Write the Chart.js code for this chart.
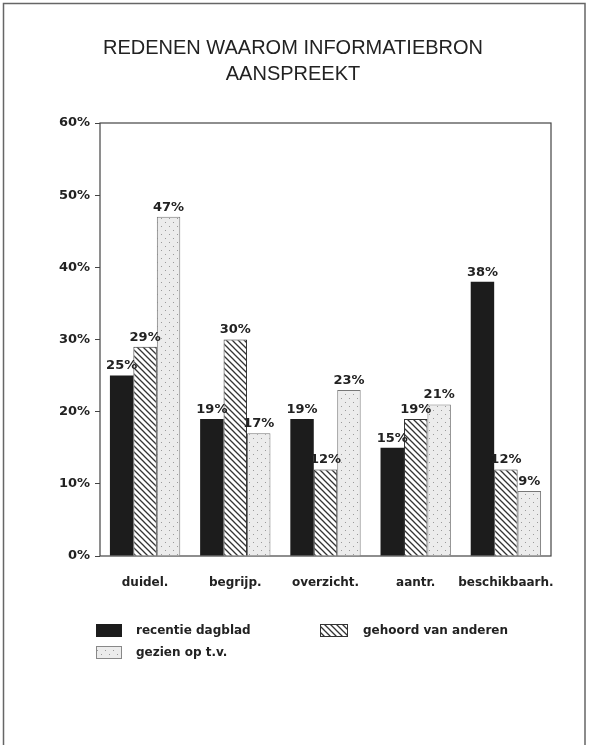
<!DOCTYPE html>
<html>
<head>
<meta charset="utf-8">
<script src="https://cdn.jsdelivr.net/npm/chart.js@4/dist/chart.umd.min.js"></script>
<style>
  html, body { margin: 0; padding: 0; background: #fff; }
  #wrap { width: 589px; height: 745px; position: relative; }
</style>
</head>
<body>
<div id="wrap"><canvas id="myChart" width="589" height="745"></canvas></div>
<script>
const titleLines = ['REDENEN WAAROM INFORMATIEBRON', 'AANSPREEKT'];
const categories = ['duidel.', 'begrijp.', 'overzicht.', 'aantr.', 'beschikbaarh.'];
const seriesNames = ['recentie dagblad', 'gehoord van anderen', 'gezien op t.v.'];
const dagblad = [25, 19, 19, 15, 38];
const anderen = [29, 30, 12, 19, 12];
const televisie = [47, 17, 23, 21, 9];
const yTicks = [0, 10, 20, 30, 40, 50, 60];

const ink = '#222';
const labelFont = 'bold 13px "DejaVu Sans", sans-serif';

// diagonal hatch, lines running top-left to bottom-right
function hatchPattern() {
    const c = document.createElement('canvas');
    c.width = 6; c.height = 6;
    const g = c.getContext('2d');
    g.fillStyle = '#fff';
    g.fillRect(0, 0, 6, 6);
    g.strokeStyle = '#333';
    g.lineWidth = 1.3;
    g.beginPath();
    g.moveTo(-1, -1); g.lineTo(7, 7);
    g.moveTo(-4, 2); g.lineTo(4, 10);
    g.moveTo(2, -4); g.lineTo(10, 4);
    g.stroke();
    return g.createPattern(c, 'repeat');
}

// light grey fill with sparse dots
function dotPattern() {
    const c = document.createElement('canvas');
    c.width = 8; c.height = 8;
    const g = c.getContext('2d');
    g.fillStyle = '#ececec';
    g.fillRect(0, 0, 8, 8);
    g.fillStyle = '#9a9a9a';
    g.fillRect(1, 2, 1, 1);
    g.fillRect(5, 6, 1, 1);
    return g.createPattern(c, 'repeat');
}

const hatch = hatchPattern();
const dots = dotPattern();

const pagePlugin = {
    id: 'page',
    beforeDraw(chart) {
        const ctx = chart.ctx;
        ctx.save();
        ctx.fillStyle = '#fff';
        ctx.fillRect(0, 0, chart.width, chart.height);
        // sheet frame
        ctx.strokeStyle = '#666';
        ctx.lineWidth = 1.5;
        ctx.beginPath();
        ctx.moveTo(3.5, 745); ctx.lineTo(3.5, 3.5); ctx.lineTo(585, 3.5); ctx.lineTo(585, 745);
        ctx.stroke();
        // title
        ctx.fillStyle = ink;
        ctx.font = '20px "Liberation Sans", Arial, sans-serif';
        ctx.textAlign = 'center';
        ctx.textBaseline = 'alphabetic';
        ctx.fillText(titleLines[0], 293, 54);
        ctx.fillText(titleLines[1], 293, 80);
        ctx.restore();
    },
    beforeDatasetsDraw(chart) {
        const a = chart.chartArea;
        const ctx = chart.ctx;
        ctx.save();
        ctx.strokeStyle = '#444';
        ctx.lineWidth = 1.2;
        ctx.strokeRect(a.left, a.top, a.right - a.left, a.bottom - a.top);
        ctx.restore();
    },
    afterDatasetsDraw(chart) {
        const ctx = chart.ctx;
        ctx.save();
        ctx.fillStyle = ink;
        ctx.font = labelFont;
        ctx.textAlign = 'center';
        ctx.textBaseline = 'bottom';
        chart.data.datasets.forEach((ds, i) => {
            chart.getDatasetMeta(i).data.forEach((bar, j) => {
                ctx.fillText(ds.data[j] + '%', bar.x, bar.y - 3);
            });
        });

        // legend
        const swatches = [
            { fill: '#1c1c1c', stroke: '#1c1c1c', x: 96, y: 624, w: 26 },
            { fill: hatch, stroke: '#333', x: 320, y: 624, w: 28 },
            { fill: dots, stroke: '#888', x: 96, y: 646, w: 26 }
        ];
        const textX = [136, 363, 136];
        ctx.font = 'bold 12px "DejaVu Sans", sans-serif';
        ctx.textAlign = 'left';
        ctx.textBaseline = 'middle';
        swatches.forEach((s, i) => {
            ctx.fillStyle = s.fill;
            ctx.fillRect(s.x, s.y, s.w, 13);
            ctx.strokeStyle = s.stroke;
            ctx.lineWidth = 1;
            ctx.strokeRect(s.x + 0.5, s.y + 0.5, s.w - 1, 12);
            ctx.fillStyle = ink;
            ctx.fillText(seriesNames[i], textX[i], s.y + 7);
        });
        ctx.restore();
    }
};

const ctx = document.getElementById('myChart');
const myChart = new Chart(ctx, {
    type: 'bar',
    data: {
        labels: categories,
        datasets: [{
            label: seriesNames[0],
            data: dagblad,
            backgroundColor: '#1c1c1c',
            borderColor: '#1c1c1c',
            borderWidth: 0
        }, {
            label: seriesNames[1],
            data: anderen,
            backgroundColor: hatch,
            borderColor: '#333',
            borderWidth: 1
        }, {
            label: seriesNames[2],
            data: televisie,
            backgroundColor: dots,
            borderColor: '#777',
            borderWidth: 1
        }]
    },
    options: {
        responsive: false,
        animation: false,
        events: [],
        layout: {
            padding: { top: 123, right: 38, bottom: 149, left: 0 }
        },
        datasets: {
            bar: { categoryPercentage: 0.78, barPercentage: 1.0 }
        },
        plugins: {
            legend: { display: false },
            title: { display: false },
            tooltip: { enabled: false }
        },
        scales: {
            x: {
                grid: { display: false },
                border: { display: false },
                ticks: {
                    color: ink,
                    font: { family: '"DejaVu Sans", sans-serif', size: 12, weight: 'bold' },
                    padding: 12,
                    minRotation: 0,
                    maxRotation: 0,
                    autoSkip: false
                },
                afterFit(scale) { scale.height = 40; }
            },
            y: {
                min: 0,
                max: 60,
                afterBuildTicks(scale) {
                    scale.ticks = yTicks.map(v => ({ value: v }));
                },
                grid: { drawOnChartArea: false, tickLength: 5, color: '#444' },
                border: { display: false },
                ticks: {
                    color: ink,
                    font: { family: '"DejaVu Sans", sans-serif', size: 13, weight: 'bold' },
                    padding: 5,
                    callback: v => v + '%'
                },
                afterFit(scale) { scale.width = 100; }
            }
        }
    },
    plugins: [pagePlugin]
});
</script>
</body>
</html>
